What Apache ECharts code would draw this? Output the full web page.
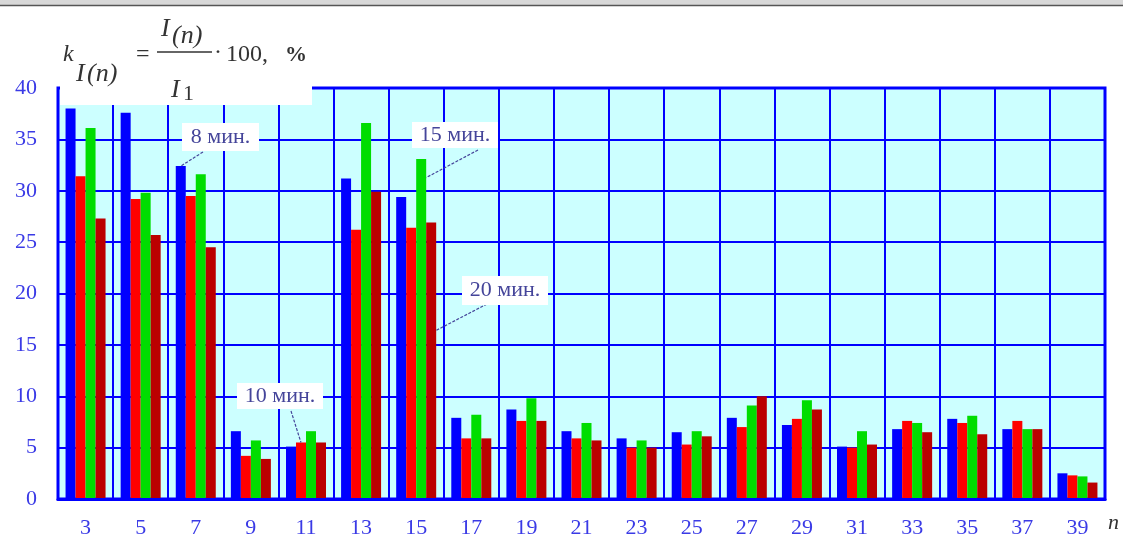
<!DOCTYPE html>
<html>
<head>
<meta charset="utf-8">
<script src="https://cdn.jsdelivr.net/npm/echarts@6/dist/echarts.min.js"></script>
<style>
  html, body { margin: 0; padding: 0; background: #ffffff; }
  #chart { width: 1123px; height: 539px; }
</style>
</head>
<body>
<div id="chart"></div>
<script>
// Harmonic orders n
const harmonics = ['3', '5', '7', '9', '11', '13', '15', '17', '19', '21', '23', '25', '27', '29', '31', '33', '35', '37', '39'];

// Harmonic current coefficient k_I(n), % — measured at different times
const min8  = [38.0, 37.6, 32.4, 6.6, 5.1, 31.2, 29.4, 7.9, 8.7, 6.6, 5.9, 6.5, 7.9, 7.2, 5.1, 6.8, 7.8, 6.8, 2.5];
const min10 = [31.4, 29.2, 29.5, 4.2, 5.5, 26.2, 26.4, 5.9, 7.6, 5.9, 5.0, 5.3, 7.0, 7.8, 5.0, 7.6, 7.4, 7.6, 2.3];
const min15 = [36.1, 29.8, 31.6, 5.7, 6.6, 36.6, 33.1, 8.2, 9.8, 7.4, 5.7, 6.6, 9.1, 9.6, 6.6, 7.4, 8.1, 6.8, 2.2];
const min20 = [27.3, 25.7, 24.5, 3.9, 5.5, 29.9, 26.9, 5.9, 7.6, 5.7, 5.0, 6.1, 10.0, 8.7, 5.3, 6.5, 6.3, 6.8, 1.6];

const seriesNames = ['8 мин.', '10 мин.', '15 мин.', '20 мин.'];
const seriesData = [min8, min10, min15, min20];
const seriesColors = ['#0000ff', '#ff0000', '#00dd00', '#bb0000'];

// Y scale
const yMin = 0, yMax = 40, yStep = 5;

const BAR_W = 10;
const SERIF = '"Liberation Serif", "Times New Roman", serif';
const AXIS_BLUE = '#0000ff';
const LABEL_BLUE = '#3a3ae6';
const NOTE_COLOR = '#45459a';

// Callouts: which bar each label points at, where along the bar the leader ends
const callouts = [
  { series: 0, cat: 2, frac: 1.0,  side: 0,  box: [182, 123, 77, 28], from: [203, 152] },
  { series: 1, cat: 4, frac: 1.0,  side: 0,  box: [237, 383, 86, 26], from: [291, 411] },
  { series: 2, cat: 6, frac: 0.945, side: 1, box: [412, 122, 86, 26], from: [478, 150] },
  { series: 3, cat: 6, frac: 0.61, side: 1,  box: [462, 276, 86, 29], from: [487, 304] }
];

const chart = echarts.init(document.getElementById('chart'), null, { renderer: 'canvas' });

const option = {
  animation: false,
  backgroundColor: '#ffffff',
  grid: {
    left: 58, right: 18, top: 88, bottom: 39,
    show: true,
    backgroundColor: '#ccffff',
    borderColor: AXIS_BLUE,
    borderWidth: 3
  },
  xAxis: {
    type: 'category',
    data: harmonics,
    z: 5,
    axisLine: { show: true, lineStyle: { color: AXIS_BLUE, width: 3 } },
    axisTick: { show: false },
    splitLine: { show: true, interval: 0, lineStyle: { color: AXIS_BLUE, width: 2 } },
    axisLabel: {
      interval: 0, margin: 18,
      color: LABEL_BLUE, fontFamily: SERIF, fontSize: 22
    }
  },
  yAxis: {
    type: 'value',
    min: yMin, max: yMax, interval: yStep,
    axisLine: { show: true, lineStyle: { color: AXIS_BLUE, width: 2 } },
    axisTick: { show: false },
    splitLine: { show: true, lineStyle: { color: AXIS_BLUE, width: 2 } },
    axisLabel: {
      margin: 21,
      color: LABEL_BLUE, fontFamily: SERIF, fontSize: 22
    }
  },
  series: seriesData.map((d, i) => ({
    name: seriesNames[i],
    type: 'bar',
    data: d,
    barWidth: BAR_W,
    barGap: '0%',
    itemStyle: { color: seriesColors[i] }
  }))
};

chart.setOption(option);

// Formula heading and callouts, laid out once the scales exist
function buildGraphics() {
  const g = [];

  // window strip at the top
  g.push({ type: 'rect', shape: { x: 0, y: 0, width: 1123, height: 5 }, style: { fill: '#d8d8d8' }, z: 10 });
  g.push({ type: 'line', shape: { x1: 0, y1: 5.5, x2: 1123, y2: 5.5 }, style: { stroke: '#555555', lineWidth: 1.5 }, z: 10 });

  // white panel behind the formula
  g.push({ type: 'rect', shape: { x: 60, y: 82, width: 252, height: 23 }, style: { fill: '#ffffff' }, z: 10 });

  const ink = '#333333';
  const txt = (text, x, y, font) => ({
    type: 'text', x: x, y: y, z: 11,
    style: { text: text, font: font, fill: ink, align: 'left', verticalAlign: 'middle' }
  });

  const it24 = 'italic 24px ' + SERIF;
  const it26 = 'italic 26px ' + SERIF;
  const rm24 = '24px ' + SERIF;

  // k_I(n) = I(n) / I1 · 100, %
  g.push(txt('k', 63, 55, it24));
  g.push(txt('I', 76, 74, it26));
  g.push(txt('(n)', 87, 74, it26));
  g.push(txt('=', 136, 55, rm24));
  g.push(txt('I', 161, 29, it26));
  g.push(txt('(n)', 172, 36, it26));
  g.push({ type: 'line', z: 11, shape: { x1: 157, y1: 52, x2: 212, y2: 52 }, style: { stroke: ink, lineWidth: 1.5 } });
  g.push(txt('I', 171, 90, it26));
  g.push(txt('1', 183, 94, '22px ' + SERIF));
  g.push(txt('·', 214, 53, rm24));
  g.push(txt('100,', 226, 55, rm24));
  g.push(txt('%', 285, 55, 'bold 22px ' + SERIF));

  // axis name n
  g.push(txt('n', 1108, 523, 'italic 22px ' + SERIF));

  // callouts
  callouts.forEach(c => {
    const val = seriesData[c.series][c.cat];
    const center = chart.convertToPixel({ xAxisIndex: 0, yAxisIndex: 0 }, [c.cat, val * c.frac]);
    const nSeries = seriesData.length;
    const barCx = center[0] + (c.series - (nSeries - 1) / 2) * BAR_W;
    const ex = barCx + c.side * BAR_W / 2;
    const ey = center[1];
    g.push({
      type: 'line', z: 12,
      shape: { x1: c.from[0], y1: c.from[1], x2: ex, y2: ey },
      style: { stroke: NOTE_COLOR, lineWidth: 1.2, lineDash: [3, 1.5] }
    });
    const [bx, by, bw, bh] = c.box;
    g.push({ type: 'rect', z: 12, shape: { x: bx, y: by, width: bw, height: bh }, style: { fill: '#ffffff' } });
    g.push({
      type: 'text', z: 13, x: bx + bw / 2, y: by + bh / 2,
      style: { text: seriesNames[c.series], font: '22px ' + SERIF, fill: NOTE_COLOR, align: 'center', verticalAlign: 'middle' }
    });
  });

  chart.setOption({ graphic: g });
}

buildGraphics();
</script>
</body>
</html>
